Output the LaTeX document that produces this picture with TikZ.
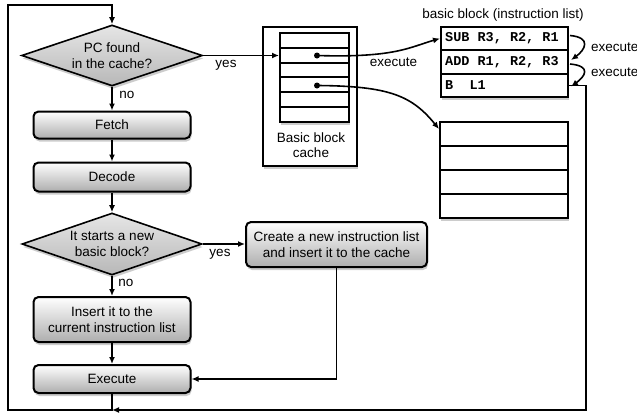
\documentclass[tikz,border=0pt]{standalone}
\usepackage{fontspec}
\setmainfont{Liberation Sans}
\setmonofont{Liberation Mono}
\usetikzlibrary{arrows.meta,shapes.geometric,shadows,calc}
\begin{document}
\begin{tikzpicture}[x=1pt,y=-1pt,
  font=\fontsize{13.5}{15.5}\selectfont,
  line/.style={line width=1.6pt, draw=black},
  arr/.style={line, -{Latex[length=7pt,width=6pt]}},
  shad/.style={drop shadow={opacity=0.4, shadow xshift=1pt, shadow yshift=-3pt}},
  proc/.style={draw, line width=2pt, rounded corners=5pt, top color=white, bottom color=black!32, minimum width=157pt, inner sep=0pt, align=center, shad},
  dec/.style={draw, line width=1.6pt, shape=diamond, aspect=3, inner sep=0pt, top color=black!10, bottom color=black!28, align=center, shad},
  cell/.style={draw, line width=2pt, fill=white, inner sep=0pt},
  back/.style={draw, line width=2pt, fill=white, inner sep=0pt, shad},
  dot/.style={circle, fill=black, inner sep=0pt, minimum size=6pt},
  lbl/.style={inner sep=1pt},
  instr/.style={inner sep=0pt, anchor=west, font=\fontsize{13.5}{15.5}\selectfont\ttfamily\bfseries},
]
\useasboundingbox (0,0) rectangle (637,413);

% flowchart
\node[dec, minimum width=181pt, minimum height=61pt] (d1) at (112,55.5) {PC found\\in the cache?};
\node[proc, minimum height=27pt] (fetch) at (112,125) {Fetch};
\node[proc, minimum height=29pt] (decode) at (112,177) {Decode};
\node[dec, minimum width=180pt, minimum height=62pt] (d2) at (112,244) {It starts a new\\basic block?};
\node[proc, minimum height=45pt] (insert) at (112,319.5) {Insert it to the\\current instruction list};
\node[proc, minimum height=28pt] (exec) at (112,379) {Execute};
\node[proc, minimum width=181pt, minimum height=45pt] (create) at (336.5,244.5) {Create a new instruction list\\and insert it to the cache};

% basic block cache
\node[back, minimum width=94pt, minimum height=139pt] (cachebox) at (310,96.5) {};
\node[lbl, align=center] (cachelbl) at (311,145) {Basic block\\cache};
\node[back, minimum width=69pt, minimum height=89pt] (cback) at (314.5,77.5) {};
\foreach \k/\yy in {1/40.4,2/55.2,3/70.1,4/84.9,5/99.7,6/114.6}
  \node[cell, minimum width=69pt, minimum height=14.83pt] (c\k) at (314.5,\yy) {};
\node[dot] (dot1) at (317,55.5) {};
\node[dot] (dot2) at (317,85.5) {};

% basic block (instruction list)
\node[lbl] (bbtitle) at (503,15) {basic block (instruction list)};
\node[back, minimum width=127pt, minimum height=70pt] (bbback) at (504.5,62) {};
\node[cell, minimum width=127pt, minimum height=23.5pt] (bb1) at (504.5,38.5) {};
\node[cell, minimum width=127pt, minimum height=23.5pt] (bb2) at (504.5,62) {};
\node[cell, minimum width=127pt, minimum height=23.5pt] (bb3) at (504.5,85.5) {};
\node[instr] (i1) at (445,38.5) {SUB R3, R2, R1};
\node[instr] (i2) at (445,62) {ADD R1, R2, R3};
\node[instr] (i3) at (445,85.5) {B\ \ L1};

% second instruction list
\node[back, minimum width=128pt, minimum height=96pt] (sback) at (504,170) {};
\foreach \k/\yy in {1/134,2/158,3/182,4/206}
  \node[cell, minimum width=128pt, minimum height=24pt] (s\k) at (504,\yy) {};

% labels
\node[lbl] (yes1) at (226,65) {yes};
\node[lbl] (no1) at (127,95) {no};
\node[lbl] (yes2) at (220,254) {yes};
\node[lbl] (no2) at (126,283) {no};
\node[lbl] (ex0) at (393.5,62) {execute};
\node[lbl, anchor=west] (ex1) at (590,47) {execute};
\node[lbl, anchor=west] (ex2) at (590,72) {execute};

% coordinates of loop
\coordinate (join) at (112,410);
\coordinate (bl) at (8,410);
\coordinate (tl) at (8,5);
\coordinate (br) at (586,410);
\coordinate (s1in) at (439,129);

% connectors
\draw[arr] (d1.south) -- (fetch.north);
\draw[arr] (fetch.south) -- (decode.north);
\draw[arr] (decode.south) -- (d2.north);
\draw[arr] (d2.south) -- (insert.north);
\draw[arr] (insert.south) -- (exec.north);
\draw[arr] (d2.east) -- (d2.east -| create.west);
\draw[arr] (create.south) -- (create.south |- exec.east) -- (exec.east);
\draw[arr] (d1.east) -- (d1.east -| c2.west);
\draw[arr] (exec.south) -- (join) -- (bl) -- (tl) -| (d1.north);
\draw[arr] (bb3.east) -| (br) -- (join);
\draw[arr] (dot1.center) .. controls (395,58) and (410,47) .. (bb1.west);
\draw[arr] (dot2.center) .. controls (390,86) and (412,96) .. (s1in);
\draw[arr] ($(bb1.east)+(1,-3)$) .. controls +(22,2) and +(14,-10) .. ($(bb2.east)+(2,-2)$);
\draw[arr] ($(bb2.east)+(1,2)$) .. controls +(22,2) and +(14,-10) .. ($(bb3.east)+(2,1)$);
\end{tikzpicture}
\end{document}
